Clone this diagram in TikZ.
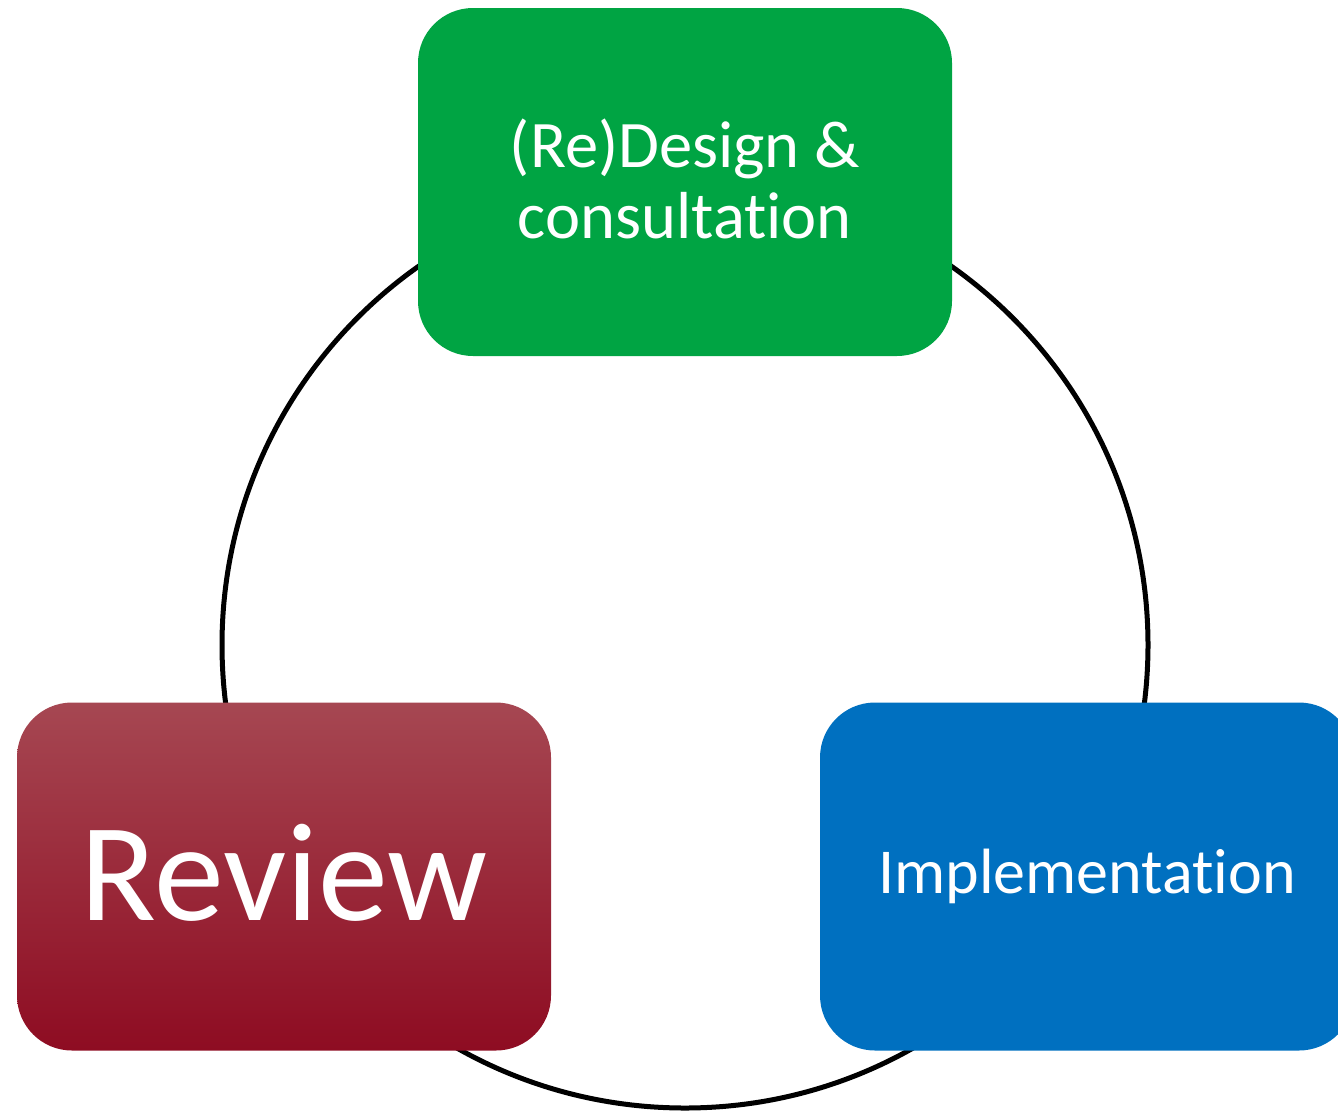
\documentclass[tikz,border=0pt]{standalone}
\usepackage{fontspec}
\setmainfont{Carlito}[Ligatures={NoCommon}]
\usepackage{xcolor}
\usetikzlibrary{positioning}
\definecolor{stepgreen}{HTML}{00A443}
\definecolor{stepblue}{HTML}{0070C0}
\definecolor{redtop}{HTML}{A64752}
\definecolor{redbot}{HTML}{8E0C22}

\begin{document}
\begin{tikzpicture}[x=1pt, y=-1pt,
    phase/.style={rectangle, rounded corners=55pt, minimum width=534pt, minimum height=348pt,
        inner sep=0pt, text=white, align=center},
    ring/.style={line width=5pt, black}
]
                                \useasboundingbox (0, 0) rectangle (1338, 1112);
                                \coordinate (c) at (685, 645);
                                \draw[ring] (c) circle (463pt);

                                \node[phase, fill=stepgreen, font=\fontsize{66.5}{71}\selectfont] (design) at (685, 182) {\raisebox{-7pt}[\height][\depth]{\begin{tabular}{@{}c@{}}(Re)Design \&\\consultation\end{tabular}}};
                                \node[phase, top color=redtop, bottom color=redbot, font=\fontsize{140}{150}\selectfont] (review) at (284, 876.5) {\raisebox{4pt}[\height][\depth]{Review}};
                                \node[phase, fill=stepblue, font=\fontsize{64}{70}\selectfont] (impl) at (1087, 876.5) {Implementation};
                            \end{tikzpicture}
\end{document}
